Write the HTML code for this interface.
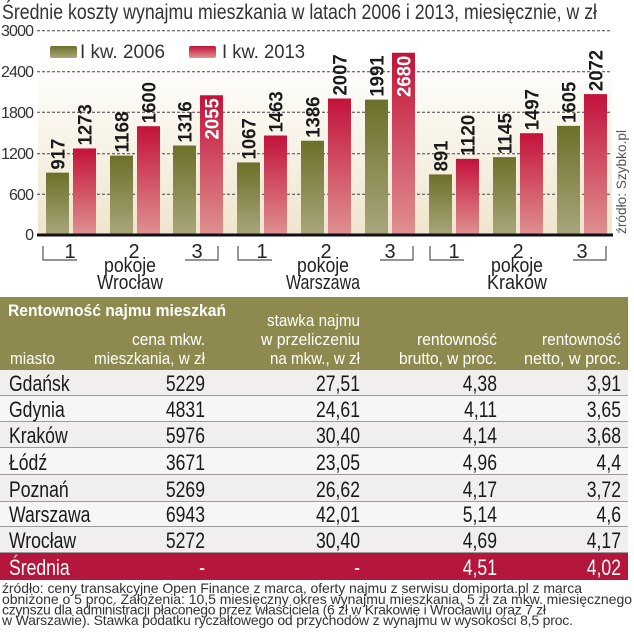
<!DOCTYPE html>
<html><head><meta charset="utf-8"><style>
html,body{margin:0;padding:0;background:#fff;}
svg{display:block;font-family:"Liberation Sans Narrow","Liberation Sans",sans-serif;}
</style></head><body>
<svg width="634" height="640" viewBox="0 0 634 640" xmlns="http://www.w3.org/2000/svg">
<defs>
<linearGradient id="bg" x1="0" y1="0" x2="0" y2="1"><stop offset="0" stop-color="#fff"/><stop offset="1" stop-color="#efe5cc"/></linearGradient>
<linearGradient id="gr" x1="0" y1="0" x2="0" y2="1"><stop offset="0" stop-color="#6b7029"/><stop offset="1" stop-color="#aaa67c"/></linearGradient>
<linearGradient id="rd" x1="0" y1="0" x2="0" y2="1"><stop offset="0" stop-color="#c3123a"/><stop offset="1" stop-color="#df9191"/></linearGradient>
</defs>
<text x="2" y="19" font-size="21" fill="#333" textLength="595" lengthAdjust="spacingAndGlyphs">Średnie koszty wynajmu mieszkania w latach 2006 i 2013, miesięcznie, w zł</text>
<rect x="38" y="60" width="574" height="175" fill="url(#bg)"/>
<g stroke="#444" stroke-dasharray="3,2" stroke-width="1">
<line x1="37" y1="30.7" x2="612" y2="30.7"/><line x1="37" y1="71.7" x2="612" y2="71.7"/><line x1="37" y1="112.3" x2="612" y2="112.3"/><line x1="37" y1="153.7" x2="612" y2="153.7"/><line x1="37" y1="194.3" x2="612" y2="194.3"/>
</g>
<g font-size="16" fill="#333" text-anchor="end" lengthAdjust="spacingAndGlyphs">
<text x="34" y="36" textLength="33">3000</text><text x="34" y="77" textLength="33">2400</text><text x="34" y="118" textLength="33">1800</text><text x="34" y="159" textLength="33">1200</text><text x="34" y="200" textLength="25">600</text><text x="34" y="240">0</text>
</g>
<rect x="50" y="46" width="27" height="12" rx="2" fill="url(#gr)"/>
<text x="80" y="58" font-size="19" fill="#333" textLength="85" lengthAdjust="spacingAndGlyphs">I kw. 2006</text>
<rect x="189" y="46" width="27" height="12" rx="2" fill="url(#rd)"/>
<text x="222" y="58" font-size="19" fill="#333" textLength="83" lengthAdjust="spacingAndGlyphs">I kw. 2013</text>
<g id="bars" font-weight="bold" font-size="19" fill="#1a1a1a"></g>
<line x1="37" y1="235" x2="613" y2="235" stroke="#111" stroke-width="3"/>
<text transform="translate(626,234) rotate(-90)" font-size="14" fill="#555" textLength="104" lengthAdjust="spacingAndGlyphs">źródło: Szybko.pl</text>
<g stroke="#555" stroke-width="1.2" fill="none">
<polyline points="43,246 43,260 77,260"/><polyline points="185,260 218,260 218,246"/>
<polyline points="238,246 238,260 272,260"/><polyline points="380,260 413,260 413,246"/>
<polyline points="430,246 430,260 464,260"/><polyline points="573,260 606,260 606,246"/>
</g>
<g font-size="20" fill="#222" text-anchor="middle">
<text x="70" y="258">1</text><text x="134" y="258">2</text><text x="197" y="258">3</text>
<text x="262" y="258">1</text><text x="326" y="258">2</text><text x="390" y="258">3</text>
<text x="454" y="258">1</text><text x="518" y="258">2</text><text x="582" y="258">3</text>
<text x="130" y="272" textLength="52" lengthAdjust="spacingAndGlyphs">pokoje</text><text x="130" y="289" textLength="66" lengthAdjust="spacingAndGlyphs">Wrocław</text>
<text x="323" y="272" textLength="52" lengthAdjust="spacingAndGlyphs">pokoje</text><text x="323" y="289" textLength="74" lengthAdjust="spacingAndGlyphs">Warszawa</text>
<text x="517" y="272" textLength="52" lengthAdjust="spacingAndGlyphs">pokoje</text><text x="517" y="289" textLength="60" lengthAdjust="spacingAndGlyphs">Kraków</text>
</g>
<rect x="0" y="297" width="628" height="73" fill="#8e8a4f"/>
<g fill="#fff" font-size="17">
<text x="8" y="316" font-weight="bold" textLength="218" lengthAdjust="spacingAndGlyphs">Rentowność najmu mieszkań</text>
<text x="10" y="364" textLength="45" lengthAdjust="spacingAndGlyphs">miasto</text>
<g text-anchor="end">
<text x="205" y="345" textLength="73" lengthAdjust="spacingAndGlyphs">cena mkw.</text><text x="205" y="364" textLength="111" lengthAdjust="spacingAndGlyphs">mieszkania, w zł</text>
<text x="360" y="326" textLength="93" lengthAdjust="spacingAndGlyphs">stawka najmu</text><text x="360" y="345" textLength="99" lengthAdjust="spacingAndGlyphs">w przeliczeniu</text><text x="360" y="364" textLength="90" lengthAdjust="spacingAndGlyphs">na mkw., w zł</text>
<text x="497" y="345" textLength="80" lengthAdjust="spacingAndGlyphs">rentowność</text><text x="497" y="364" textLength="98" lengthAdjust="spacingAndGlyphs">brutto, w proc.</text>
<text x="621" y="345" textLength="79" lengthAdjust="spacingAndGlyphs">rentowność</text><text x="621" y="364" textLength="97" lengthAdjust="spacingAndGlyphs">netto, w proc.</text>
</g></g>
<g id="rows" font-size="22" fill="#1a1a1a"></g>
<g font-size="14" fill="#333" lengthAdjust="spacingAndGlyphs">
<text x="2" y="593" textLength="580">źródło: ceny transakcyjne Open Finance z marca, oferty najmu z serwisu domiporta.pl z marca</text>
<text x="2" y="604" textLength="630">obniżone o 5 proc. Założenia: 10,5 miesięczny okres wynajmu mieszkania, 5 zł za mkw. miesięcznego</text>
<text x="2" y="614.5" textLength="544">czynszu dla administracji płaconego przez właściciela (6 zł w Krakowie i Wrocławiu oraz 7 zł</text>
<text x="2" y="625" textLength="571">w Warszawie). Stawka podatku ryczałtowego od przychodów z wynajmu w wysokości 8,5 proc.</text>
</g>
</svg>
<script>
(function(){
var NS="http://www.w3.org/2000/svg";
function el(p,t,a,txt){var e=document.createElementNS(NS,t);for(var k in a)e.setAttribute(k,a[k]);if(txt!=null)e.textContent=txt;p.appendChild(e);return e;}
var g=document.getElementById('bars');
var starts=[46,110,173,237,301,365,429,493,557];
var d=[[917,1273],[1168,1600],[1316,2055],[1067,1463],[1386,2007],[1991,2680],[891,1120],[1145,1497],[1605,2072]];
for(var i=0;i<9;i++){
 for(var j=0;j<2;j++){
  var v=d[i][j],x=starts[i]+j*27,w=23,top=235-v*0.068;
  el(g,'rect',{x:x,y:top,width:w,height:235-top,fill:j?'url(#rd)':'url(#gr)'});
  var cx=x+w/2+7;
  var s=String(v),L=s.length*10.3;
  var inside=(v==2055||v==2680);
  if(inside) el(g,'text',{transform:'translate('+cx+','+(top+3)+') rotate(-90)','text-anchor':'end',fill:'#fff',textLength:L,lengthAdjust:'spacingAndGlyphs'},s);
  else el(g,'text',{transform:'translate('+cx+','+(top-3)+') rotate(-90)',textLength:L,lengthAdjust:'spacingAndGlyphs'},s);
 }
}
var r=document.getElementById('rows');
var rows=[["Gdańsk","5229","27,51","4,38","3,91"],["Gdynia","4831","24,61","4,11","3,65"],["Kraków","5976","30,40","4,14","3,68"],["Łódź","3671","23,05","4,96","4,4"],["Poznań","5269","26,62","4,17","3,72"],["Warszawa","6943","42,01","5,14","4,6"],["Wrocław","5272","30,40","4,69","4,17"],["Średnia","-","-","4,51","4,02"]];
var ys=[370,396,422,448,475,502,527,553,580];
var xs=[205,360,497,621];
for(var k=0;k<8;k++){
 var y0=ys[k],h=ys[k+1]-y0,last=k==7;
 el(r,'rect',{x:0,y:y0,width:628,height:h,fill:last?'#b5163b':(k%2==0?'#f0efed':'#f6f6f5')});
 if(!last) el(r,'line',{x1:0,y1:y0+h-0.5,x2:628,y2:y0+h-0.5,stroke:'#9a9a9a','stroke-width':1});
 var by=y0+h-5, col=last?'#fff':'#1a1a1a';
 el(r,'text',{transform:'translate(9,'+by+') scale(0.8,1)',fill:col},rows[k][0]);
 for(var c=0;c<4;c++) el(r,'text',{transform:'translate('+xs[c]+','+by+') scale(0.8,1)','text-anchor':'end',fill:col},rows[k][c+1]);
}
})();
</script>
</body></html>
